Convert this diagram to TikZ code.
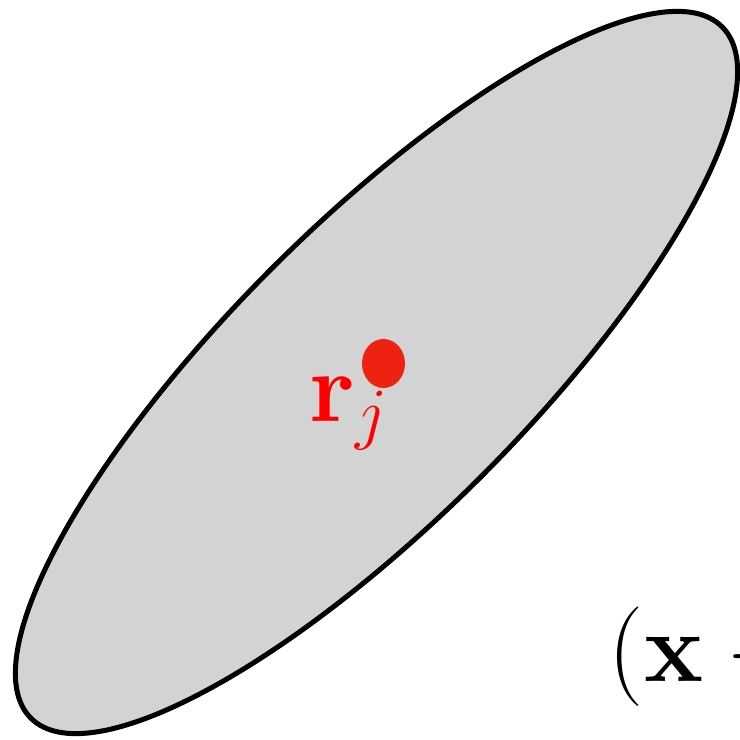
\documentclass[tikz,border=0pt]{standalone}
\usepackage{amsmath}
\DeclareMathSizes{24.88}{24.88}{17.28}{12}
\definecolor{fillgray}{RGB}{211,211,211}
\definecolor{dotred}{RGB}{238,34,17}
\tikzset{
  blob/.style={draw=black, fill=fillgray, line width=1.25pt},
  pointdot/.style={fill=dotred, draw=none},
  lbl/.style={inner sep=0pt, anchor=base west, font=\Huge}
}
\begin{document}
\begin{tikzpicture}
\useasboundingbox (0,0) rectangle (185pt,185pt);
\clip (0,0) rectangle (185pt,185pt);
\coordinate (c) at (94.125pt,91.875pt);
\draw[blob, rotate around={45:(c)}] (c) ellipse [x radius=122.2pt, y radius=36.9pt];
\coordinate (p) at (95.875pt,94.125pt);
\fill[pointdot] (p) ellipse [x radius=5.375pt, y radius=6.125pt];
\node[lbl, text=red] (rj) at (77.25pt,79.5pt) {$\mathbf{r}_j$};
\node[lbl] (expr) at (152pt,14.5pt) {$(\mathbf{x} -{}$};
\end{tikzpicture}
\end{document}
